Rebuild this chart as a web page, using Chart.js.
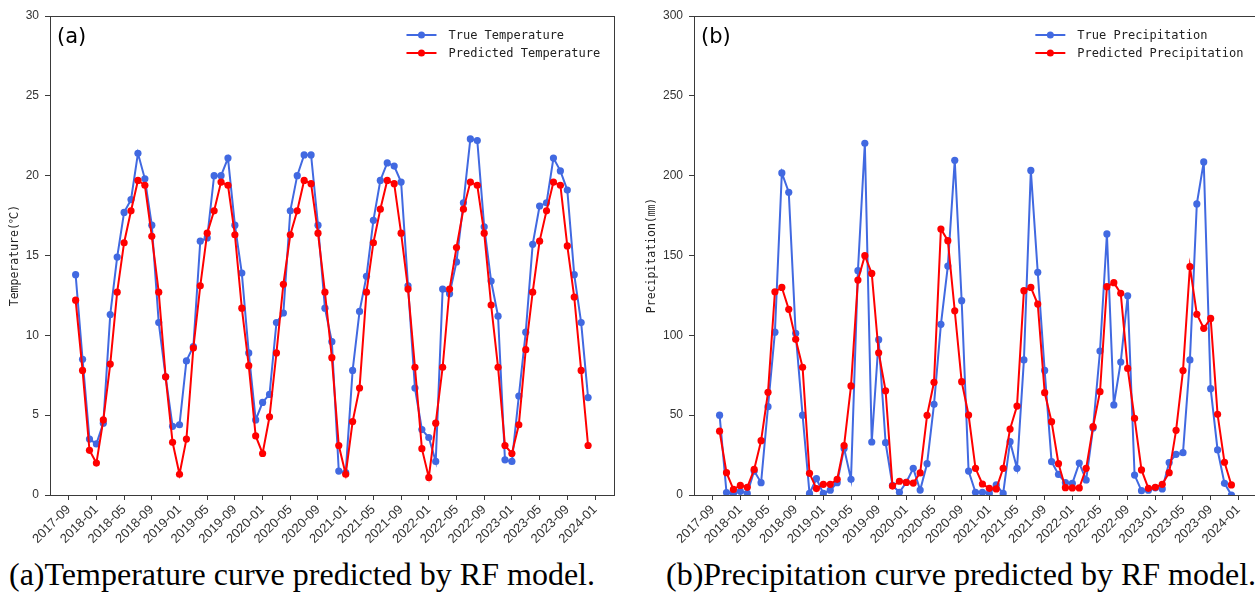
<!DOCTYPE html>
<html>
<head>
<meta charset="utf-8">
<script src="https://cdn.jsdelivr.net/npm/chart.js@4.4.0/dist/chart.umd.min.js"></script>
<style>
	body { margin:0; background:#fff; width:1255px; height:592px; overflow:hidden; position:relative; }
	canvas { position:absolute; top:0; }
	#chart-temperature { left:0; }
	#chart-precipitation { left:627px; }
	.caption { position:absolute; top:556px; font-family:"Liberation Serif","Times New Roman",serif; font-size:32px; line-height:36px; color:#000; white-space:nowrap; }
	#caption-a { left:9px; }
	#caption-b { left:666px; }
</style>
</head>
<body>
<canvas id="chart-temperature" width="627" height="548"></canvas>
<canvas id="chart-precipitation" width="640" height="548"></canvas>
<div class="caption" id="caption-a">(a)Temperature curve predicted by RF model.</div>
<div class="caption" id="caption-b">(b)Precipitation curve predicted by RF model.</div>
<script>
// monthly series, 2017-10 .. 2023-12
var first_month = '2017-10';
var month_count = 75;

var x_tick_labels = ['2017-09','2018-01','2018-05','2018-09','2019-01','2019-05','2019-09','2020-01','2020-05','2020-09',
	'2021-01','2021-05','2021-09','2022-01','2022-05','2022-09','2023-01','2023-05','2023-09','2024-01'];

var temp_true = [13.8, 8.5, 3.5, 3.2, 4.5, 11.3, 14.9, 17.7, 18.5, 21.4,
	19.8, 16.9, 10.8, 7.4, 4.3, 4.4, 8.4, 9.3, 15.9, 16.1,
	20.0, 20.0, 21.1, 16.9, 13.9, 8.9, 4.7, 5.8, 6.3, 10.8,
	11.4, 17.8, 20.0, 21.3, 21.3, 16.9, 11.7, 9.6, 1.5, 1.4,
	7.8, 11.5, 13.7, 17.2, 19.7, 20.8, 20.6, 19.6, 13.1, 6.7,
	4.1, 3.6, 2.1, 12.9, 12.6, 14.6, 18.3, 22.3, 22.2, 16.8,
	13.4, 11.2, 2.2, 2.1, 6.2, 10.2, 15.7, 18.1, 18.3, 21.1,
	20.3, 19.1, 13.8, 10.8, 6.1];
var temp_pred = [12.2, 7.8, 2.8, 2.0, 4.7, 8.2, 12.7, 15.8, 17.8, 19.7,
	19.4, 16.2, 12.7, 7.4, 3.3, 1.3, 3.5, 9.2, 13.1, 16.4,
	17.8, 19.6, 19.4, 16.3, 11.7, 8.1, 3.7, 2.6, 4.9, 8.9,
	13.2, 16.3, 17.8, 19.7, 19.5, 16.4, 12.7, 8.6, 3.1, 1.3,
	4.6, 6.7, 12.7, 15.8, 17.9, 19.7, 19.5, 16.4, 12.9, 8.0,
	2.9, 1.1, 4.5, 8.0, 12.9, 15.5, 17.9, 19.6, 19.4, 16.4,
	11.9, 8.0, 3.1, 2.6, 4.4, 9.1, 12.7, 15.9, 17.8, 19.6,
	19.4, 15.6, 12.4, 7.8, 3.1];

var prec_true = [50, 1.5, 1, 2.3, 1, 15, 7.7, 55.3, 102, 201.7,
	189.6, 101.3, 50, 1, 10.2, 1, 3, 7.7, 29.2, 9.8,
	140.5, 220.3, 33.2, 97.3, 32.8, 6, 1.7, 8, 16.7, 3.1,
	19.6, 56.8, 106.9, 143.4, 209.6, 121.7, 15, 1.7, 1.7, 1,
	6.3, 1, 33.4, 16.7, 84.6, 203.3, 139.5, 78, 20.9, 12.9,
	7.7, 7.3, 20, 9.4, 42, 90.2, 163.5, 56.4, 83.3, 124.8,
	12.5, 2.7, 3, 4.5, 3.8, 20.3, 25.5, 26.5, 84.6, 182.3,
	208.6, 66.6, 28.2, 7.3, 0];
var prec_pred = [40, 14, 3.5, 6, 4.8, 16, 34, 64.3, 127.3, 130,
	116.3, 97.5, 80, 13.6, 4, 6.7, 6.7, 9.8, 31, 68.3,
	134.6, 149.9, 138.8, 89.1, 65.3, 5.6, 8.6, 7.9, 7.5, 13.8,
	49.9, 70.6, 166.6, 159.3, 115.4, 71, 50.1, 16.7, 6.9, 4.2,
	3.8, 16.7, 41.3, 55.7, 128, 130, 119.6, 64.1, 45.9, 19.6,
	4.6, 4.4, 4.4, 16.7, 42.8, 64.7, 130.5, 133, 126.3, 79.3,
	48, 15.7, 4.2, 4.8, 6.7, 14, 40.5, 77.9, 143, 113.2,
	104.4, 110.6, 50.5, 20.5, 6.3];

var BLUE = '#4169e1';
var RED = '#ff0000';
var AXIS_COLOR = '#3a3a3a';

// months since 2017-09
function month_index(label){
	var p = label.split('-');
	return (parseInt(p[0],10) - 2017) * 12 + (parseInt(p[1],10) - 9);
}

var page_charts = {
	initialize:function(){
		var start = month_index(first_month);
		this.month_x = [];
		for (var i = 0; i < month_count; i++) {
			this.month_x.push(start + i);
		}
		this.init_panel('chart-temperature', {
			tag:'(a)', title:'Temperature(\u2103)', max:30, step:5,
			series:[temp_true, temp_pred], labels:['True Temperature','Predicted Temperature'],
			axis_width:50, title_pad:8, pad_right:13.3
		});
		this.init_panel('chart-precipitation', {
			tag:'(b)', title:'Precipitation(\u339c)', max:300, step:50,
			series:[prec_true, prec_pred], labels:['True Precipitation','Predicted Precipitation'],
			axis_width:67, title_pad:18, pad_right:10
		});
	},
	to_points:function(values){
		var xs = this.month_x;
		return values.map(function(v, i){ return {x: xs[i], y: v}; });
	},
	frame_plugin:{
		id:'frame_legend',
		afterDraw:function(chart, args, opts){
			var ctx = chart.ctx, area = chart.chartArea;
			ctx.save();
			ctx.strokeStyle = AXIS_COLOR;
			ctx.lineWidth = 1;
			ctx.strokeRect(Math.round(area.left) + 0.5, Math.round(area.top) + 0.5,
				Math.round(area.right - area.left), Math.round(area.bottom - area.top));

			ctx.fillStyle = '#000';
			ctx.textBaseline = 'middle';
			ctx.font = '21px "DejaVu Sans", sans-serif';
			ctx.fillText(opts.tag, area.left + 7, area.top + 22);

			ctx.font = '12px "DejaVu Sans Mono", monospace';
			var sets = chart.data.datasets, maxw = 0;
			sets.forEach(function(d){ maxw = Math.max(maxw, ctx.measureText(d.label).width); });
			var tx = area.right - 13.5 - maxw;
			sets.forEach(function(d, i){
				var y = area.top + 19 + i * 18;
				ctx.strokeStyle = d.borderColor;
				ctx.lineWidth = 2;
				ctx.beginPath();
				ctx.moveTo(tx - 42, y);
				ctx.lineTo(tx - 12, y);
				ctx.stroke();
				ctx.fillStyle = d.borderColor;
				ctx.beginPath();
				ctx.arc(tx - 27, y, 3.5, 0, Math.PI * 2);
				ctx.fill();
				ctx.fillStyle = '#222';
				ctx.fillText(d.label, tx, y + 1);
			});
			ctx.restore();
		}
	},
	init_panel:function(canvas_id, cfg){
		var tick_font = {family:'"Liberation Sans", Arial, sans-serif', size:12};
		var x_font = {family:'"Liberation Sans", Arial, sans-serif', size:13};
		var config = {
			type:'line',
			data:{
				datasets:[{
					label:cfg.labels[0],
					data:this.to_points(cfg.series[0]),
					borderColor:BLUE, backgroundColor:BLUE,
					borderWidth:2, pointRadius:3.6, pointBorderWidth:0,
					tension:0, order:1
				},{
					label:cfg.labels[1],
					data:this.to_points(cfg.series[1]),
					borderColor:RED, backgroundColor:RED,
					borderWidth:2, pointRadius:3.6, pointBorderWidth:0,
					tension:0, order:0
				}]
			},
			options:{
				responsive:false,
				animation:false,
				layout:{padding:{top:16, right:cfg.pad_right, bottom:0, left:0}},
				plugins:{
					legend:{display:false},
					tooltip:{enabled:false},
					frame_legend:{tag:cfg.tag}
				},
				scales:{
					x:{
						type:'linear',
						min:-2.7, max:78.7,
						grid:{display:true, drawOnChartArea:false, drawTicks:true, tickLength:5, color:AXIS_COLOR},
						border:{display:false},
						afterBuildTicks:function(scale){
							scale.ticks = x_tick_labels.map(function(l){ return {value: month_index(l)}; });
						},
						afterFit:function(scale){ scale.height = 53; },
						ticks:{
							autoSkip:false, minRotation:45, maxRotation:45, padding:2,
							color:'#333', font:x_font,
							callback:function(v, i){ return x_tick_labels[i]; }
						}
					},
					y:{
						min:0, max:cfg.max,
						grid:{display:true, drawOnChartArea:false, drawTicks:true, tickLength:5, color:AXIS_COLOR},
						border:{display:false},
						afterFit:function(scale){ scale.width = cfg.axis_width; },
						ticks:{stepSize:cfg.step, padding:6, color:'#333', font:tick_font},
						title:{
							display:true, text:cfg.title, color:'#222',
							font:{family:'"DejaVu Sans Mono", "Noto Sans CJK SC", monospace', size:11.5},
							padding:{top:cfg.title_pad, bottom:0}
						}
					}
				}
			},
			plugins:[this.frame_plugin]
		};
		var ctx = document.getElementById(canvas_id).getContext('2d');
		return new Chart(ctx, config);
	}
};

window.addEventListener('load', function(){
	page_charts.initialize();
});
</script>
</body>
</html>
